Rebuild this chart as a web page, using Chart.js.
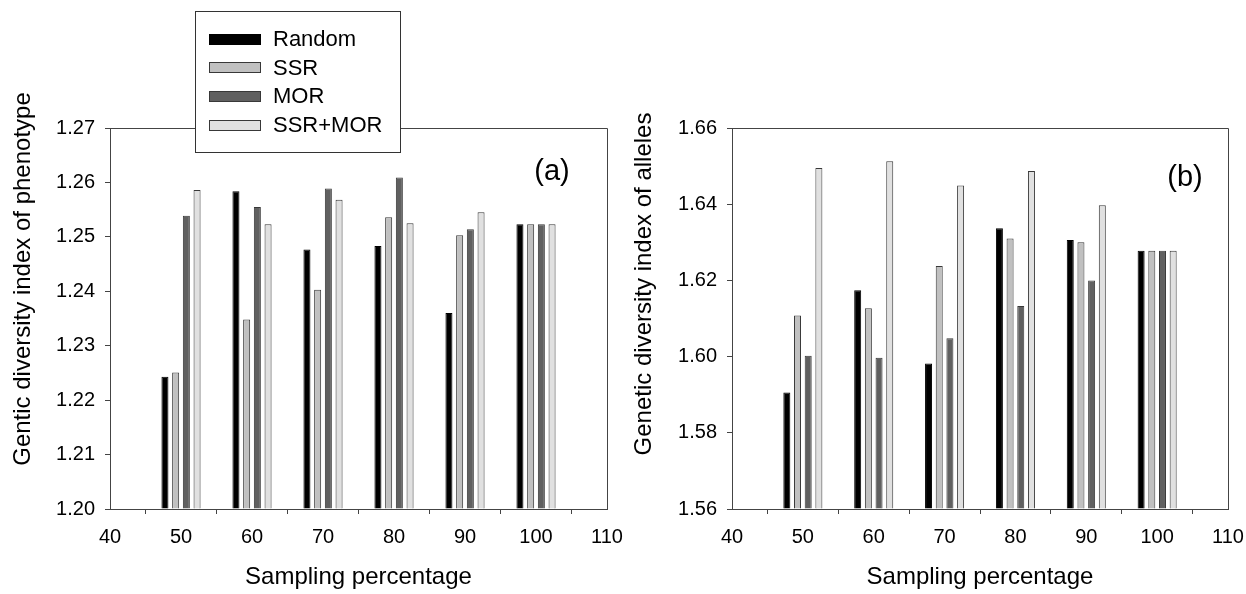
<!DOCTYPE html>
<html>
<head>
<meta charset="utf-8">
<script src="https://cdn.jsdelivr.net/npm/chart.js@4.4.1/dist/chart.umd.min.js"></script>
<style>
  html, body { margin: 0; padding: 0; background: #ffffff; }
  #wrap { position: relative; width: 1246px; height: 594px; overflow: hidden; }
  #cA { position: absolute; left: 0; top: 0; }
  #cB { position: absolute; left: 620px; top: 0; }
</style>
</head>
<body>
<div id="wrap">
  <canvas id="cA" width="650" height="594"></canvas>
  <canvas id="cB" width="626" height="594"></canvas>
</div>
<script>
// ---- data ----
const samplingPercent = [50, 60, 70, 80, 90, 100];
const seriesNames = ['Random', 'SSR', 'MOR', 'SSR+MOR'];
const xTicks = [40, 50, 60, 70, 80, 90, 100, 110];

// (a) phenotype
const phenoRandom = [1.2243, 1.2584, 1.2477, 1.2483, 1.2360, 1.2523];
const phenoSSR    = [1.2251, 1.2348, 1.2403, 1.2536, 1.2503, 1.2523];
const phenoMOR    = [1.2539, 1.2555, 1.2589, 1.2609, 1.2514, 1.2523];
const phenoSSRMOR = [1.2586, 1.2523, 1.2568, 1.2525, 1.2545, 1.2523];
const phenoYTicks = [1.20, 1.21, 1.22, 1.23, 1.24, 1.25, 1.26, 1.27];

// (b) alleles
const alleleRandom = [1.5906, 1.6174, 1.5982, 1.6337, 1.6306, 1.6278];
const alleleSSR    = [1.6108, 1.6127, 1.6238, 1.6310, 1.6300, 1.6278];
const alleleMOR    = [1.6002, 1.5997, 1.6048, 1.6133, 1.6200, 1.6278];
const alleleSSRMOR = [1.6495, 1.6513, 1.6449, 1.6487, 1.6397, 1.6278];
const alleleYTicks = [1.56, 1.58, 1.60, 1.62, 1.64, 1.66];

// ---- styles ----
const fills = ['#000000', '#c0c0c0', '#606060', '#e0e0e0'];
const FONT = "'Liberation Sans', Arial, sans-serif";
const AXIS_COLOR = '#444444';

function makeDatasets(seriesList, yMin) {
  return seriesList.map((vals, k) => ({
    label: seriesNames[k],
    data: samplingPercent.map((x, i) => ({ x: x, y: vals[i] })),
    backgroundColor: fills[k],
    borderColor: k === 0 ? '#000000' : '#383838',
    borderWidth: 1,
    borderSkipped: 'start',
    base: yMin,
    categoryPercentage: 0.603,
    barPercentage: 0.655
  }));
}

const frameAndLabel = {
  id: 'frameAndLabel',
  afterDatasetsDraw(chart, args, opts) {
    const { ctx, chartArea: a } = chart;
    ctx.save();
    ctx.strokeStyle = AXIS_COLOR;
    ctx.lineWidth = 1;
    ctx.beginPath();
    ctx.moveTo(a.left, Math.round(a.top) + 0.5);
    ctx.lineTo(Math.round(a.right) + 0.5, Math.round(a.top) + 0.5);
    ctx.lineTo(Math.round(a.right) + 0.5, a.bottom);
    ctx.stroke();
    // panel label
    ctx.fillStyle = '#000';
    ctx.font = '29px ' + FONT;
    ctx.textAlign = 'center';
    ctx.textBaseline = 'middle';
    ctx.fillText(opts.text, a.right - opts.dx, a.top + opts.dy);
    // y axis title
    ctx.translate(opts.yTitleX, opts.yTitleY);
    ctx.rotate(-Math.PI / 2);
    ctx.font = '24px ' + FONT;
    ctx.fillText(opts.yTitle, 0, 0);
    ctx.restore();
  },
  afterDraw(chart, args, opts) {
    if (!opts.legend) return;
    const { ctx } = chart;
    const L = opts.legend;
    ctx.save();
    ctx.fillStyle = '#ffffff';
    ctx.fillRect(L.x, L.y, L.w, L.h);
    ctx.strokeStyle = '#333333';
    ctx.lineWidth = 1;
    ctx.strokeRect(L.x + 0.5, L.y + 0.5, L.w, L.h);
    ctx.font = '22px ' + FONT;
    ctx.textBaseline = 'middle';
    ctx.textAlign = 'left';
    chart.data.datasets.forEach((ds, k) => {
      const cy = L.y + 28 + k * 28.7;
      ctx.fillStyle = ds.backgroundColor;
      ctx.fillRect(L.x + 14, Math.round(cy - 5.5), 52, 11);
      ctx.strokeStyle = ds.borderColor;
      ctx.strokeRect(L.x + 14.5, Math.round(cy - 5.5) + 0.5, 51, 10);
      ctx.fillStyle = '#000';
      ctx.fillText(ds.label, L.x + 78, cy + 1);
    });
    ctx.restore();
  }
};

function makeChart(canvasId, seriesList, yTicks, yLeftWidth, padRight, label) {
  const yMin = yTicks[0], yMax = yTicks[yTicks.length - 1];
  return new Chart(document.getElementById(canvasId), {
    type: 'bar',
    data: { datasets: makeDatasets(seriesList, yMin) },
    options: {
      responsive: false,
      animation: false,
      devicePixelRatio: 1,
      layout: { padding: { top: 128, right: padRight, bottom: 0, left: 0 } },
      plugins: {
        legend: { display: false },
        tooltip: { enabled: false },
        frameAndLabel: label
      },
      scales: {
        x: {
          type: 'linear',
          min: xTicks[0],
          max: xTicks[xTicks.length - 1],
          offset: false,
          afterBuildTicks: (s) => { s.ticks = xTicks.map(v => ({ value: v })); },
          afterFit: (s) => { s.height = 85; s.paddingLeft = 0; s.paddingRight = 0; },
          ticks: { color: '#000', font: { family: FONT, size: 20 }, padding: 11, maxRotation: 0,
                   callback: (v) => String(v) },
          grid: { drawOnChartArea: false, drawTicks: true, tickLength: 5, color: AXIS_COLOR },
          border: { display: true, color: AXIS_COLOR, width: 1 },
          title: { display: true, text: 'Sampling percentage', color: '#000',
                   font: { family: FONT, size: 24 }, padding: { top: 0, bottom: 2 } }
        },
        y: {
          type: 'linear',
          min: yMin,
          max: yMax,
          afterBuildTicks: (s) => { s.ticks = yTicks.map(v => ({ value: v })); },
          afterFit: (s) => { s.width = yLeftWidth; s.paddingTop = 0; s.paddingBottom = 0; },
          ticks: { color: '#000', font: { family: FONT, size: 20 }, padding: 10,
                   callback: (v) => Number(v).toFixed(2) },
          grid: { drawOnChartArea: false, drawTicks: true, tickLength: 5, color: AXIS_COLOR },
          border: { display: true, color: AXIS_COLOR, width: 1 },
          title: { display: false }
        }
      }
    },
    plugins: [frameAndLabel]
  });
}

makeChart('cA', [phenoRandom, phenoSSR, phenoMOR, phenoSSRMOR], phenoYTicks, 110, 43,
  { text: '(a)', dx: 55, dy: 44, yTitle: 'Gentic diversity index of phenotype', yTitleX: 23, yTitleY: 279,
    legend: { x: 195, y: 11, w: 205, h: 141 } });

makeChart('cB', [alleleRandom, alleleSSR, alleleMOR, alleleSSRMOR], alleleYTicks, 112, 18,
  { text: '(b)', dx: 43, dy: 50, yTitle: 'Genetic diversity index of alleles', yTitleX: 24, yTitleY: 284 });
</script>
</body>
</html>
